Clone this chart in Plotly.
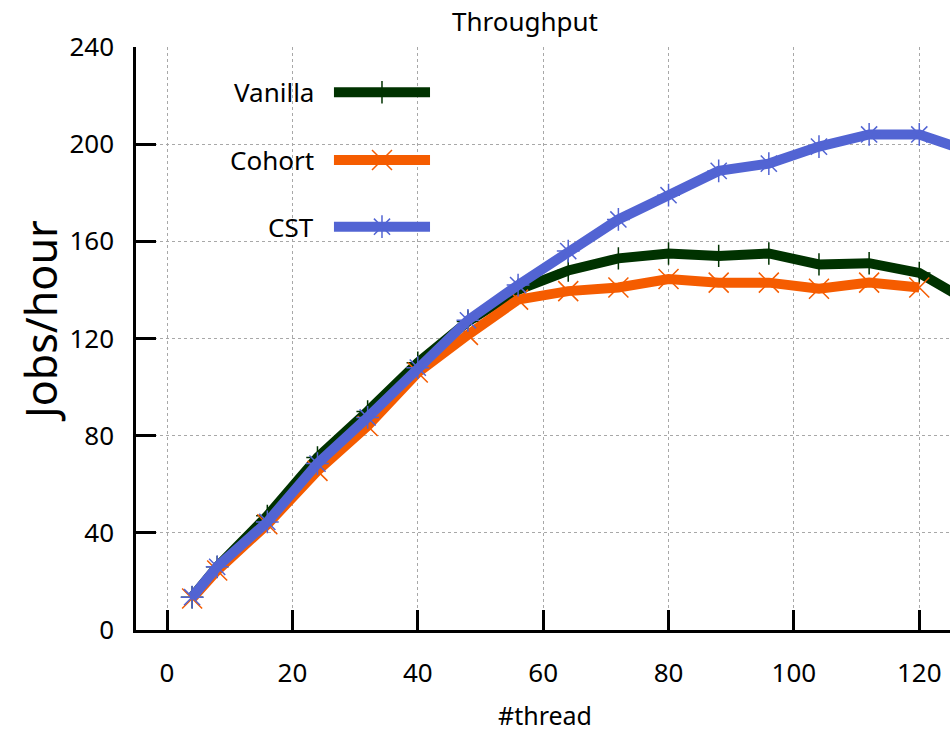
import plotly.graph_objects as go

# ---- data ----
threads = [4, 8, 16, 24, 32, 40, 48, 56, 64, 72, 80, 88, 96, 104, 112, 120, 128]
vanilla = [13.5, 26, 47, 71, 90, 110, 127, 140, 148, 153, 155, 154, 155, 150.5, 151, 147, 135]
cohort_threads = [4, 8, 16, 24, 32, 40, 48, 56, 64, 72, 80, 88, 96, 104, 112, 120]
cohort = [13, 24.5, 43.5, 65.5, 84, 106, 121.5, 136, 139.5, 141, 144.5, 143, 143, 140.5, 143, 141]
cst = [13.5, 26, 44.5, 68.5, 87.5, 108, 127.5, 142, 156, 169, 179, 189, 192, 199, 204, 204, 197]

series_names = ["Vanilla", "Cohort", "CST"]
x_ticks = [0, 20, 40, 60, 80, 100, 120]
y_ticks = [0, 40, 80, 120, 160, 200, 240]

colors = ["#003200", "#f55c00", "#5264d3"]
symbols = ["cross-thin", "x-thin", "asterisk-open"]
msizes = [16, 20, 19]

FONT = "Noto Sans"

fig = go.Figure()
xs = [threads, cohort_threads, threads]
ys = [vanilla, cohort, cst]
for name, x, y, c, s, ms in zip(series_names, xs, ys, colors, symbols, msizes):
    fig.add_trace(go.Scatter(
        x=x, y=y, name=name, mode="lines+markers",
        line=dict(color=c, width=10),
        marker=dict(symbol=s, size=ms, color=c, line=dict(color=c, width=1.5)),
        showlegend=False,
    ))

# ---- custom legend (text left of sample) on an overlay axis in plot-fraction units ----
leg_y = [0.9223, 0.8062, 0.6918]
lx0, lx1, lxm = 0.2432, 0.3612, 0.3022
for name, c, s, ms, ly in zip(series_names, colors, symbols, msizes, leg_y):
    fig.add_trace(go.Scatter(
        x=[lx0, lx1], y=[ly, ly], mode="lines", xaxis="x2", yaxis="y2",
        line=dict(color=c, width=10), showlegend=False, hoverinfo="skip"))
    fig.add_trace(go.Scatter(
        x=[lxm], y=[ly], mode="markers", xaxis="x2", yaxis="y2",
        marker=dict(symbol=s, size=ms, color=c, line=dict(color=c, width=1.5)),
        showlegend=False, hoverinfo="skip"))
    fig.add_annotation(x=0.2211, y=ly, xref="paper", yref="paper", text=name,
                       showarrow=False, xanchor="right", yanchor="middle",
                       font=dict(family=FONT, size=26, color="black"))

axis_common = dict(
    showline=True, linecolor="black", linewidth=2.5,
    ticks="inside", ticklen=20, tickwidth=2.5, tickcolor="black",
    showgrid=True, gridcolor="#a8a8a8", gridwidth=1, griddash="dot",
    zeroline=False, tickfont=dict(family=FONT, size=26, color="black"),
)

fig.update_layout(
    width=950, height=733,
    margin=dict(l=136, r=0, t=47, b=103),
    plot_bgcolor="white", paper_bgcolor="white",
    title=dict(text="Throughput", x=525 / 950, xref="container", xanchor="center",
               y=1 - 22 / 733, yref="container", yanchor="middle",
               font=dict(family=FONT, size=26, color="black")),
    xaxis=dict(range=[-4.95, 124.9], tickvals=x_ticks, ticklabelstandoff=18, **axis_common),
    yaxis=dict(range=[0, 240], tickvals=y_ticks, ticklabelstandoff=14, **axis_common),
    xaxis2=dict(range=[0, 1], overlaying="x", visible=False, showgrid=False),
    yaxis2=dict(range=[0, 1], overlaying="y", visible=False, showgrid=False),
    showlegend=False,
)

fig.add_annotation(x=(40 - 136) / 814, y=(630 - 321) / 583, xref="paper", yref="paper",
                   text="Jobs/hour", textangle=-90, showarrow=False,
                   xanchor="center", yanchor="middle",
                   font=dict(family=FONT, size=43, color="black"))
fig.add_annotation(x=(545 - 136) / 814, y=(630 - 715) / 583, xref="paper", yref="paper",
                   text="#thread", showarrow=False, xanchor="center", yanchor="middle",
                   font=dict(family=FONT, size=25, color="black"))

fig.write_html(
    "out.html",
    config={"displayModeBar": False},
    post_script="document.body.style.margin='0';document.body.style.overflow='hidden';"
                "document.documentElement.style.overflow='hidden';",
)
